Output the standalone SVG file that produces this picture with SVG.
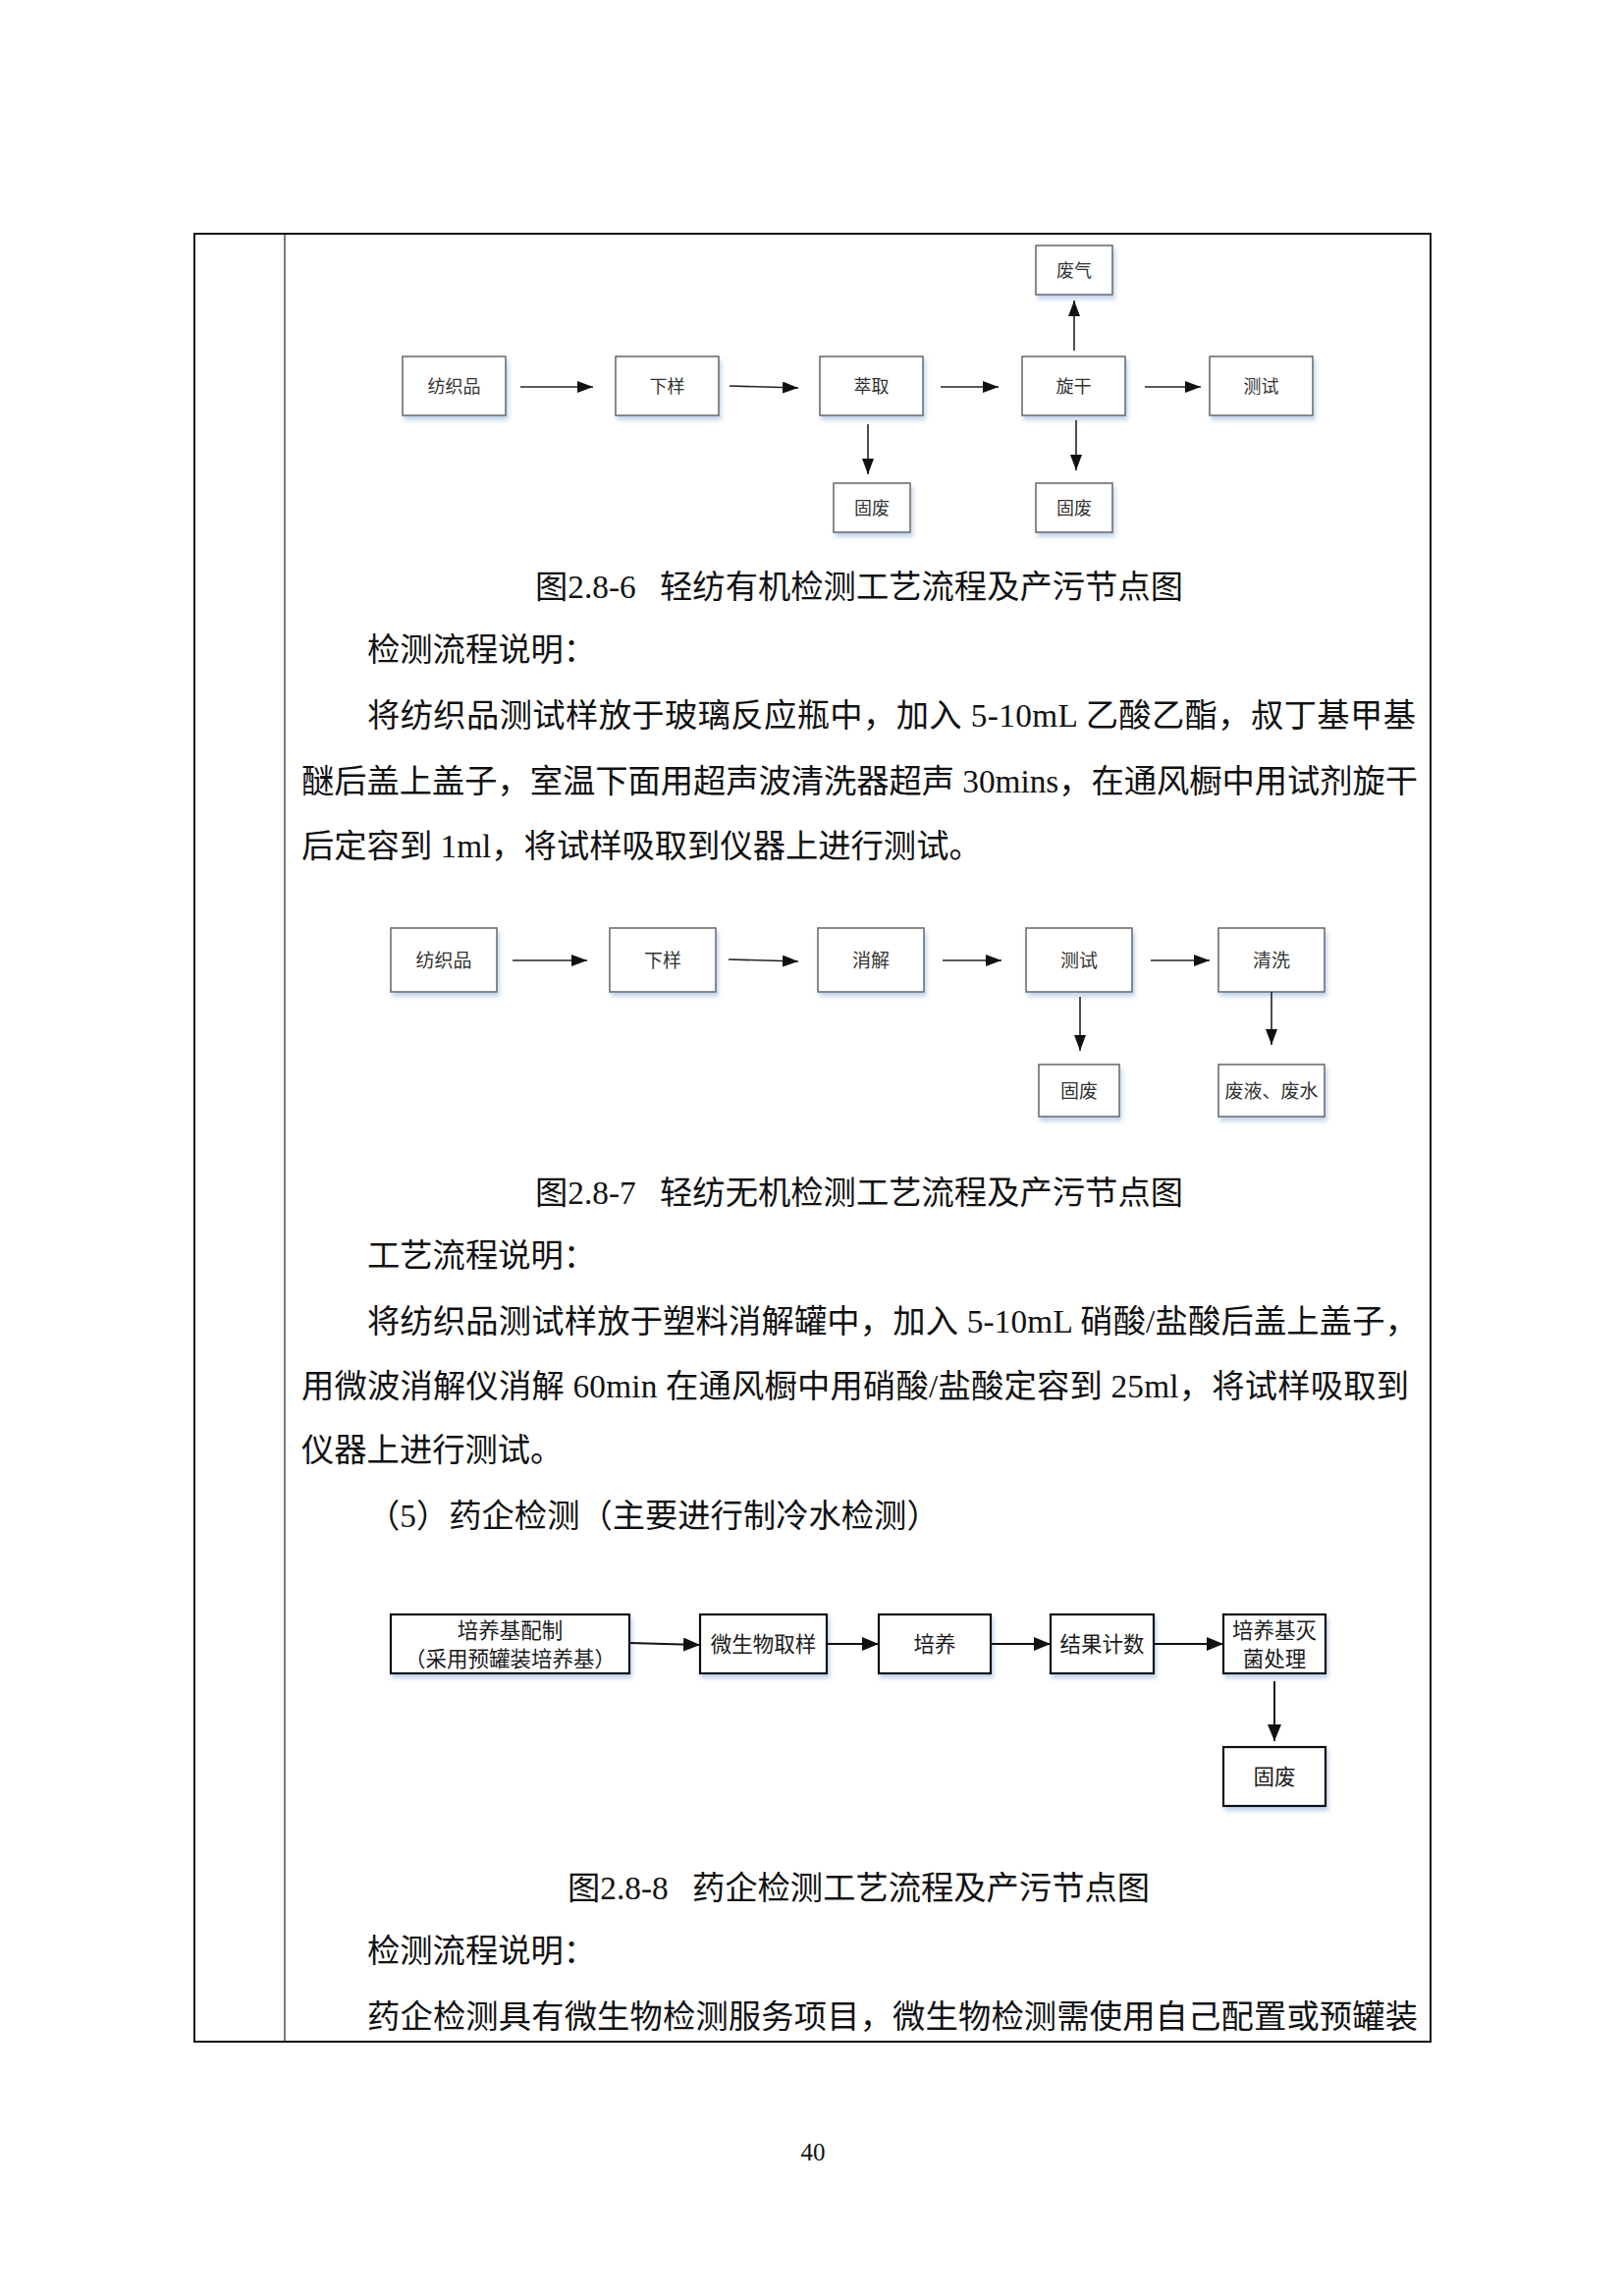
<svg xmlns="http://www.w3.org/2000/svg" width="1653" height="2338" viewBox="0 0 1653 2338">
<style>
.body{font-family:"Liberation Serif","Noto Sans CJK SC",serif;font-size:33.3px;fill:#111}
.cap{font-family:"Liberation Serif","Noto Sans CJK SC",serif;font-size:33.3px;fill:#111}
.b1{fill:#fff;stroke:#666;stroke-width:1.5;filter:url(#sh)}
.b3{fill:#fff;stroke:#111;stroke-width:2.2;filter:url(#sh)}
.t1{font-family:"Noto Sans CJK SC","Liberation Sans",sans-serif;font-size:18px;fill:#333;text-anchor:middle}
.t2{font-family:"Noto Sans CJK SC","Liberation Sans",sans-serif;font-size:19px;fill:#333;text-anchor:middle}
.t3{font-family:"Noto Sans CJK SC","Liberation Sans",sans-serif;font-size:21.5px;fill:#1a1a1a;text-anchor:middle}
.a1{stroke:#222;stroke-width:1.6;fill:none;marker-end:url(#ah1)}
.a3{stroke:#111;stroke-width:2;fill:none;marker-end:url(#ah3)}
</style>
<defs>
<filter id="sh" x="-10%" y="-10%" width="130%" height="150%">
<feDropShadow dx="2" dy="4" stdDeviation="2" flood-color="#8fb0dc" flood-opacity="0.55"/>
</filter>
<marker id="ah1" markerUnits="userSpaceOnUse" markerWidth="16" markerHeight="12" refX="16" refY="6" orient="auto">
<path d="M0,0 L16,6 L0,12 z" fill="#111"/>
</marker>
<marker id="ah3" markerUnits="userSpaceOnUse" markerWidth="17" markerHeight="14" refX="17" refY="7" orient="auto">
<path d="M0,0 L17,7 L0,14 z" fill="#111"/>
</marker>
</defs>
<rect width="1653" height="2338" fill="#fff"/>

<g id="frame">
<rect x="198" y="238" width="1259" height="1841" fill="none" stroke="#111" stroke-width="2"/>
<line x1="290" y1="238" x2="290" y2="2079" stroke="#222" stroke-width="1.2"/>
</g>

<!-- Diagram 2.8-6 -->
<g id="d1-n1"><rect class="b1" x="410" y="363" width="105" height="60"/><text class="t1" x="462.5" y="399.8">纺织品</text></g>
<g id="d1-n2"><rect class="b1" x="627" y="363" width="105" height="60"/><text class="t1" x="679.5" y="399.8">下样</text></g>
<g id="d1-n3"><rect class="b1" x="835" y="363" width="105" height="60"/><text class="t1" x="887.5" y="399.8">萃取</text></g>
<g id="d1-n4"><rect class="b1" x="1041" y="363" width="105" height="60"/><text class="t1" x="1093.5" y="399.8">旋干</text></g>
<g id="d1-n5"><rect class="b1" x="1232" y="363" width="105" height="60"/><text class="t1" x="1284.5" y="399.8">测试</text></g>
<g id="d1-n6"><rect class="b1" x="1055" y="250" width="78" height="50"/><text class="t1" x="1094" y="281.8">废气</text></g>
<g id="d1-n7"><rect class="b1" x="849" y="492" width="78" height="50"/><text class="t1" x="888" y="523.8">固废</text></g>
<g id="d1-n8"><rect class="b1" x="1055" y="492" width="78" height="50"/><text class="t1" x="1094" y="523.8">固废</text></g>
<g id="d1-connectors">
<line class="a1" x1="530" y1="394" x2="604" y2="394"/>
<line class="a1" x1="743" y1="393" x2="813" y2="395"/>
<line class="a1" x1="958" y1="394" x2="1017" y2="394"/>
<line class="a1" x1="1166" y1="394" x2="1223" y2="394"/>
<line class="a1" x1="1094" y1="357" x2="1094" y2="306"/>
<line class="a1" x1="884" y1="432" x2="884" y2="483"/>
<line class="a1" x1="1096" y1="428" x2="1096" y2="479"/>
</g>
<text class="cap" y="608.6"><tspan x="545">图2.8-6</tspan><tspan x="672" textLength="533" lengthAdjust="spacing">轻纺有机检测工艺流程及产污节点图</tspan></text>

<text class="body" x="374" y="672.6">检测流程说明：</text>
<text class="body" x="374" y="739.6" textLength="1068" lengthAdjust="spacing">将纺织品测试样放于玻璃反应瓶中，加入 5-10mL 乙酸乙酯，叔丁基甲基</text>
<text class="body" x="307" y="806.6" textLength="1137" lengthAdjust="spacing">醚后盖上盖子，室温下面用超声波清洗器超声 30mins，在通风橱中用试剂旋干</text>
<text class="body" x="307" y="872.6">后定容到 1ml，将试样吸取到仪器上进行测试。</text>

<!-- Diagram 2.8-7 -->
<g id="d2-n1"><rect class="b1" x="398" y="945" width="108" height="65"/><text class="t2" x="452" y="984.7">纺织品</text></g>
<g id="d2-n2"><rect class="b1" x="621" y="945" width="108" height="65"/><text class="t2" x="675" y="984.7">下样</text></g>
<g id="d2-n3"><rect class="b1" x="833" y="945" width="108" height="65"/><text class="t2" x="887" y="984.7">消解</text></g>
<g id="d2-n4"><rect class="b1" x="1045" y="945" width="108" height="65"/><text class="t2" x="1099" y="984.7">测试</text></g>
<g id="d2-n5"><rect class="b1" x="1241" y="945" width="108" height="65"/><text class="t2" x="1295" y="984.7">清洗</text></g>
<g id="d2-n6"><rect class="b1" x="1058" y="1084" width="82" height="53"/><text class="t2" x="1099" y="1117.7">固废</text></g>
<g id="d2-n7"><rect class="b1" x="1241" y="1084" width="108" height="53"/><text class="t2" x="1295" y="1117.7">废液、废水</text></g>
<g id="d2-connectors">
<line class="a1" x1="522" y1="978" x2="598" y2="978"/>
<line class="a1" x1="742" y1="977" x2="813" y2="979"/>
<line class="a1" x1="960" y1="978" x2="1020" y2="978"/>
<line class="a1" x1="1172" y1="978" x2="1232" y2="978"/>
<line class="a1" x1="1100" y1="1015" x2="1100" y2="1070"/>
<line class="a1" x1="1295" y1="1010" x2="1295" y2="1064"/>
</g>
<text class="cap" y="1225.6"><tspan x="545">图2.8-7</tspan><tspan x="672" textLength="533" lengthAdjust="spacing">轻纺无机检测工艺流程及产污节点图</tspan></text>

<text class="body" x="374" y="1289.6">工艺流程说明：</text>
<text class="body" x="374" y="1356.6" textLength="1070" lengthAdjust="spacing">将纺织品测试样放于塑料消解罐中，加入 5-10mL 硝酸/盐酸后盖上盖子，</text>
<text class="body" x="307" y="1422.6" textLength="1128" lengthAdjust="spacing">用微波消解仪消解 60min 在通风橱中用硝酸/盐酸定容到 25ml，将试样吸取到</text>
<text class="body" x="307" y="1487.6">仪器上进行测试。</text>
<text class="body" x="374" y="1554.6">（5）药企检测（主要进行制冷水检测）</text>

<!-- Diagram 2.8-8 -->
<g id="d3-n1"><rect class="b3" x="398" y="1644" width="243" height="60"/><text class="t3" x="519.5" y="1668">培养基配制</text><text class="t3" x="519.5" y="1697">（采用预罐装培养基）</text></g>
<g id="d3-n2"><rect class="b3" x="713" y="1644" width="129" height="60"/><text class="t3" x="777.5" y="1682.2">微生物取样</text></g>
<g id="d3-n3"><rect class="b3" x="895" y="1644" width="114" height="60"/><text class="t3" x="952" y="1682.2">培养</text></g>
<g id="d3-n4"><rect class="b3" x="1070" y="1644" width="105" height="60"/><text class="t3" x="1122.5" y="1682.2">结果计数</text></g>
<g id="d3-n5"><rect class="b3" x="1246" y="1644" width="104" height="60"/><text class="t3" x="1298" y="1668">培养基灭</text><text class="t3" x="1298" y="1697">菌处理</text></g>
<g id="d3-n6"><rect class="b3" x="1246" y="1779" width="104" height="60"/><text class="t3" x="1298" y="1817.2">固废</text></g>
<g id="d3-connectors">
<line class="a3" x1="641" y1="1673" x2="713" y2="1675"/>
<line class="a3" x1="842" y1="1674" x2="895" y2="1674"/>
<line class="a3" x1="1009" y1="1674" x2="1070" y2="1674"/>
<line class="a3" x1="1175" y1="1674" x2="1246" y2="1674"/>
<line class="a3" x1="1298" y1="1712" x2="1298" y2="1773"/>
</g>
<text class="cap" y="1933.6"><tspan x="578">图2.8-8</tspan><tspan x="705" textLength="466" lengthAdjust="spacing">药企检测工艺流程及产污节点图</tspan></text>

<text class="body" x="374" y="1997.6">检测流程说明：</text>
<text class="body" x="374" y="2064.6" textLength="1070" lengthAdjust="spacing">药企检测具有微生物检测服务项目，微生物检测需使用自己配置或预罐装</text>

<text x="828" y="2200" font-family="Liberation Serif, serif" font-size="25" fill="#111" text-anchor="middle">40</text>
</svg>
